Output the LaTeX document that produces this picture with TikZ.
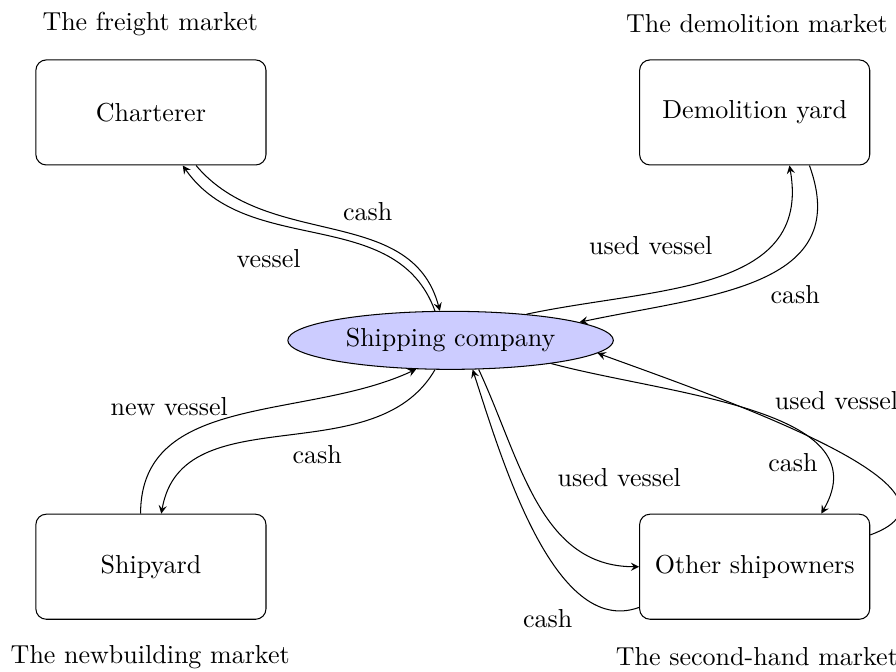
\documentclass[tikz,border=0pt]{standalone}
\usepackage{tikz}
\usetikzlibrary{shapes.geometric}

\begin{document}
\begin{tikzpicture}[
kasten/.style={draw, rounded corners, minimum width=3.11cm, minimum height=1.42cm},
reederei/.style={draw, ellipse, fill=blue!20, minimum width=4.4cm, minimum height=0.76cm},
pfeil/.style={->, >=stealth},
]

\useasboundingbox (0,0) rectangle (12.11,9.07);

% Maerkte
\node (freight) at (2.03,8.75) {The freight market};
\node (demolitionmarket) at (10.23,8.75) {The demolition market};
\node (newbuilding) at (2.03,0.19) {The newbuilding market};
\node (secondhand) at (10.23,0.19) {The second-hand market};

\node[kasten] (charterer) at (2.04,7.55) {Charterer};
\node[kasten] (demolition) at (10.2,7.55) {Demolition yard};
\node[kasten] (shipyard) at (2.04,1.41) {Shipyard};
\node[kasten] (owners) at (10.2,1.41) {Other shipowners};
\node[reederei] (company) at (6.09,4.47) {Shipping company};

% Charterer
\draw[pfeil] ([xshift=0.61cm]charterer.south) to[out=-50,in=105] node[pos=0.5,above right] {cash} (company.110);
\draw[pfeil] (company.118) to[out=110,in=-55] node[pos=0.53,below left,yshift=-0.12cm] {vessel} ([xshift=0.43cm]charterer.south);

% Abwracken
\draw[pfeil] (company.19) to[out=12,in=-80,looseness=1.1] node[pos=0.5,above left,xshift=0.1cm,yshift=0.18cm] {used vessel} ([xshift=0.47cm]demolition.south);
\draw[pfeil] ([xshift=0.74cm]demolition.south) to[out=-70,in=12,looseness=1.2] node[pos=0.47,below right,xshift=-0.08cm] {cash} (company.8);

% Werft
\draw[pfeil] ([xshift=-0.14cm]shipyard.north) to[out=90,in=-155] node[pos=0.5,above left,yshift=-0.13cm] {new vessel} (company.220);
\draw[pfeil] (company.242) to[out=-120,in=80] node[pos=0.5,below right] {cash} ([xshift=0.14cm]shipyard.north);

% Secondhand
\draw[pfeil] (company.-46) to[out=-65,in=180] node[pos=0.5,above right,xshift=0.15cm,yshift=0.08cm] {used vessel} (owners.west);
\draw[pfeil] ([yshift=-0.55cm]owners.west) to[out=200,in=-72,looseness=0.8] node[pos=0.22,below left,xshift=-0.08cm] {cash} (company.-53);
\draw[pfeil] (company.-13) to[out=-15,in=60] node[pos=0.72,below left,xshift=0.15cm] {cash} ([xshift=0.9cm]owners.north);
\draw[pfeil] ([yshift=0.43cm]owners.east) to[out=20,in=-20] node[pos=0.62,above right,xshift=-0.07cm] {used vessel} (company.-5.5);

\end{tikzpicture}
\end{document}
